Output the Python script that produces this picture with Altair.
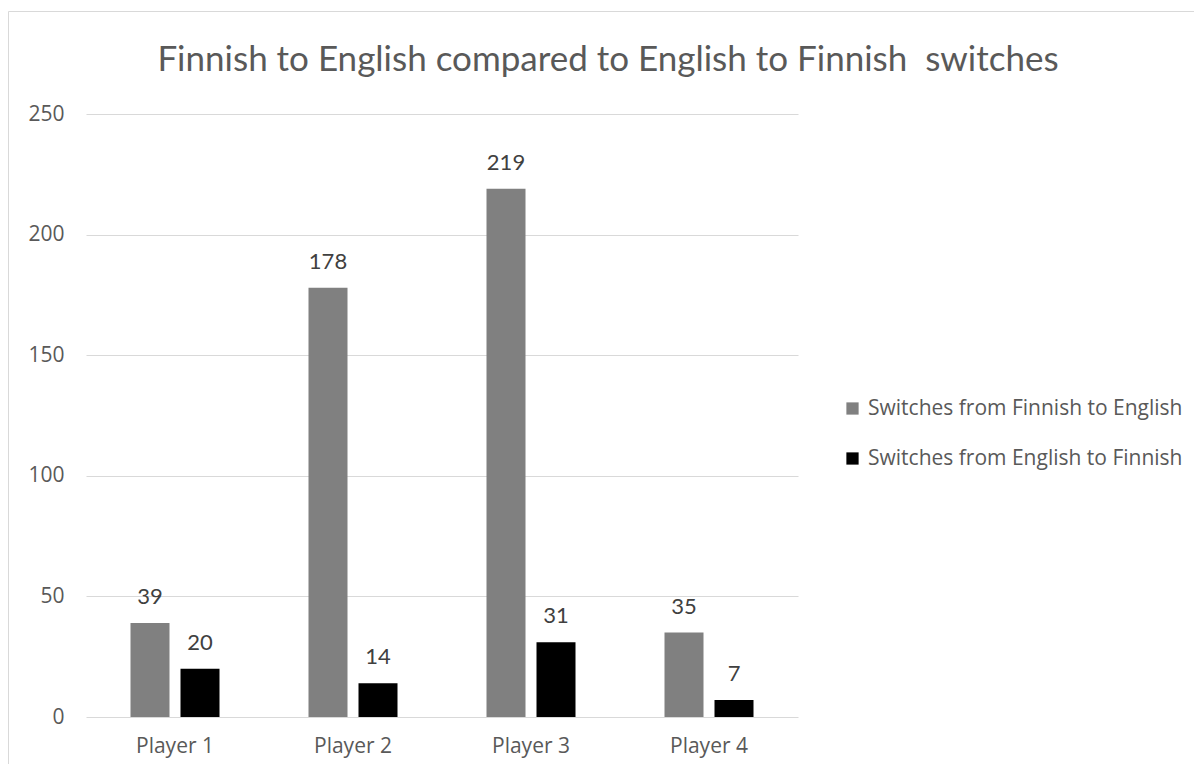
import altair as alt
import pandas as pd

# ---- data ----
players = ["Player 1", "Player 2", "Player 3", "Player 4"]
series_names = ["Switches from Finnish to English", "Switches from English to Finnish"]
fin_to_eng = [39, 178, 219, 35]
eng_to_fin = [20, 14, 31, 7]
series_colors = ["#808080", "#000000"]
y_ticks = [0, 50, 100, 150, 200, 250]
title_text = "Finnish to English compared to English to Finnish \u00a0switches"

rows = []
for i, p in enumerate(players):
    rows.append({"player": p, "series": series_names[0], "value": fin_to_eng[i]})
    rows.append({"player": p, "series": series_names[1], "value": eng_to_fin[i]})
df = pd.DataFrame(rows)

FONT = "Lato"
AXFONT = "Open Sans"
TXT = "#595959"
W, H = 712, 603
PAD_L, PAD_T, PAD_R, PAD_B = 78, 106, 396, 47

x = alt.X(
    "player:N", sort=players, title=None,
    scale=alt.Scale(paddingInner=0.5, paddingOuter=0.25),
    axis=alt.Axis(labelAngle=0, domain=False, ticks=False, tickSize=0, grid=False,
                  labelPadding=18, labelFontSize=21, labelColor=TXT, labelFont=AXFONT),
)
xo = alt.XOffset("series:N", sort=series_names,
                 scale=alt.Scale(domain=series_names, paddingInner=0.22, paddingOuter=0))
y = alt.Y(
    "value:Q", title=None,
    scale=alt.Scale(domain=[0, 250], nice=False, zero=True),
    axis=alt.Axis(values=y_ticks, domain=False, ticks=False, tickSize=0,
                  labelPadding=22, labelFontSize=21, labelColor=TXT, labelFont=AXFONT,
                  gridColor="#d9d9d9", gridWidth=1),
)
color = alt.Color(
    "series:N", sort=series_names,
    scale=alt.Scale(domain=series_names, range=series_colors),
    legend=alt.Legend(title=None, orient="none", legendX=756, legendY=284,
                      symbolType="square", symbolSize=150, symbolStrokeWidth=0,
                      labelFontSize=21, labelFont=AXFONT, labelColor=TXT, labelLimit=0,
                      rowPadding=28, labelOffset=5, padding=0),
)

border = alt.Chart(pd.DataFrame({"k": [0]})).mark_rect(
    fill="transparent", stroke="#d9d9d9", strokeWidth=1
).encode(
    x=alt.value(-77.5), x2=alt.value(1400), y=alt.value(-102.5), y2=alt.value(900)
)

base = alt.Chart(df)
bars = base.mark_bar().encode(x=x, xOffset=xo, y=y, color=color)
labels = base.mark_text(
    baseline="alphabetic", dy=-19, fontSize=22, font=FONT, color="#404040"
).encode(x=x, xOffset=xo, y=y, text="value:Q")

chart = alt.layer(border, bars, labels).properties(
    width=W, height=H,
    title=alt.TitleParams(text=title_text, frame="group", anchor="middle", dx=166,
                          fontSize=35, font=FONT, color=TXT, fontWeight="normal",
                          baseline="alphabetic", offset=-95),
    autosize=alt.AutoSizeParams(type="none"),
    padding={"left": PAD_L, "top": PAD_T, "right": PAD_R, "bottom": PAD_B},
).configure_view(strokeWidth=0)

chart.save("out.html", embed_options={"renderer": "svg", "actions": False})
